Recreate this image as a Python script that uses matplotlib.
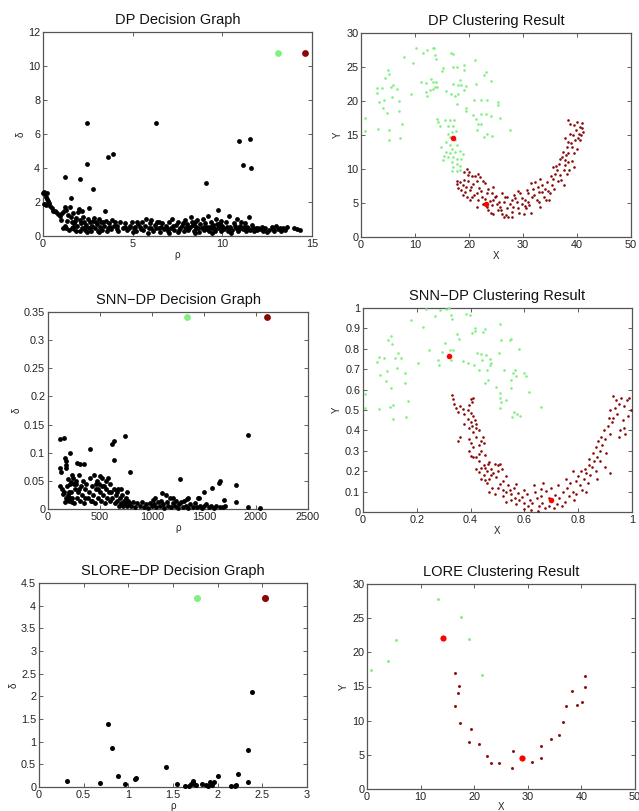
import numpy as np
import matplotlib
matplotlib.use('Agg')
import matplotlib.pyplot as plt
from matplotlib.ticker import MultipleLocator, FuncFormatter

plt.rcParams['font.family'] = ['Liberation Sans', 'DejaVu Sans']

GREEN = '#80f080'
DARKRED = '#880808'
RED = '#ff0000'

# ---------------- DP decision graph (rho, delta) ----------------
dp_centers = [(13.1, 10.75), (14.6, 10.75)]
dp_dec = [
    (2.45, 6.65), (6.3, 6.65), (3.6, 4.65), (3.9, 4.85), (2.45, 4.25), (1.25, 3.45),
    (2.05, 3.35), (2.8, 2.75), (9.1, 3.1), (10.95, 5.6), (11.55, 5.7), (11.15, 4.2),
    (11.6, 4.0), (9.75, 1.55), (1.55, 2.25), (2.55, 1.65), (3.45, 1.5),
    (0.0, 2.55), (0.05, 2.6), (0.1, 2.45), (0.15, 2.3), (0.2, 2.55), (0.25, 2.2),
    (0.3, 2.05), (0.35, 1.95), (0.05, 1.9), (0.15, 1.8), (0.4, 1.75), (0.5, 1.65),
    (0.55, 1.5), (0.65, 1.45), (0.75, 1.4), (0.85, 1.3), (0.95, 1.2), (1.05, 1.35),
    (1.15, 1.45), (1.0, 0.95), (1.1, 0.5),
    (1.25, 1.7), (1.3, 1.55), (1.4, 1.25), (1.5, 1.7), (1.55, 1.1), (1.6, 0.8),
    (1.65, 0.55), (1.7, 1.35), (1.75, 0.4), (1.8, 0.9), (1.85, 1.05), (1.9, 0.6),
    (1.95, 1.4), (2.0, 1.6), (2.05, 0.3), (2.1, 0.75), (2.15, 1.5), (2.2, 0.5),
    (2.25, 1.1), (2.3, 0.85), (2.35, 0.35), (2.4, 0.65), (2.5, 1.0), (2.55, 0.45),
    (2.6, 0.8), (2.7, 0.3), (2.75, 0.6), (2.8, 0.9), (2.85, 1.05), (2.9, 0.45),
    (3.0, 0.7), (3.05, 0.3), (3.1, 1.0), (3.2, 0.55), (3.25, 0.8), (3.3, 0.35),
    (3.4, 0.6), (3.5, 0.9), (3.55, 0.3), (3.6, 0.5), (3.7, 0.75), (3.8, 0.4),
    (3.85, 0.95), (3.95, 0.6), (4.0, 0.85), (1.3, 0.5), (1.45, 0.35), (1.85, 0.3),
    (2.45, 0.25), (3.15, 0.25), (1.2, 0.6), (1.6, 0.45),
    (4.2, 0.3), (4.3, 0.8), (4.45, 0.5), (4.6, 0.75), (4.7, 0.35), (4.85, 0.6),
    (4.95, 0.8), (5.05, 0.45), (5.2, 0.3), (5.3, 0.7), (5.4, 0.55), (5.5, 0.85),
    (5.6, 0.35), (5.7, 0.6), (5.75, 1.0), (5.85, 0.2), (5.95, 0.75), (6.05, 0.45),
    (6.15, 0.3), (6.25, 0.65), (6.35, 0.85), (6.45, 0.5), (6.55, 0.25), (6.65, 0.75),
    (6.75, 0.4), (6.85, 0.6), (6.95, 0.3), (7.05, 0.8), (7.15, 0.5), (7.2, 1.0),
    (7.3, 0.35), (7.4, 0.65), (7.5, 0.25), (7.55, 0.85), (7.65, 0.45), (7.75, 0.6),
    (7.85, 0.3), (7.9, 0.95), (7.95, 0.5), (4.1, 0.6), (5.0, 0.25), (6.0, 0.95),
    (7.0, 0.2),
    (8.05, 0.7), (8.1, 0.35), (8.2, 0.55), (8.25, 1.1), (8.3, 0.85), (8.4, 0.3),
    (8.45, 0.6), (8.55, 0.45), (8.6, 0.95), (8.7, 0.25), (8.75, 0.7), (8.85, 0.5),
    (8.9, 1.0), (9.0, 0.35), (9.05, 0.75), (9.15, 0.55), (9.2, 1.2), (9.25, 0.3),
    (9.35, 0.8), (9.45, 0.45), (9.5, 0.65), (9.6, 0.3), (9.65, 1.0), (9.75, 0.5),
    (9.85, 0.75), (9.9, 0.3), (10.0, 0.6), (10.1, 0.4), (10.2, 0.85), (10.3, 0.3),
    (10.35, 1.15), (10.45, 0.55), (10.55, 0.35), (10.65, 0.75), (10.75, 0.45),
    (10.8, 1.0), (10.9, 0.3), (11.0, 0.6), (11.05, 0.85), (11.15, 0.4), (11.25, 0.75),
    (11.3, 0.3), (11.4, 0.55), (11.5, 1.1), (11.55, 0.35), (11.65, 0.65), (11.75, 0.3),
    (11.85, 0.5), (11.95, 0.35), (8.5, 0.2), (9.4, 0.2), (10.5, 0.2), (8.0, 0.45),
    (9.8, 0.55), (10.9, 0.5),
    (12.1, 0.4), (12.25, 0.3), (12.4, 0.45), (12.6, 0.35), (12.75, 0.55), (12.9, 0.3),
    (13.0, 0.6), (13.1, 0.4), (13.25, 0.3), (13.4, 0.5), (13.6, 0.55), (14.0, 0.5),
    (14.15, 0.4), (14.35, 0.35), (12.2, 0.55), (12.5, 0.25),
    (1.35, 0.9), (1.75, 0.75), (2.05, 0.95), (2.35, 0.55), (2.65, 0.55), (2.95, 0.85),
    (3.35, 0.8), (3.75, 0.55), (4.15, 0.4), (4.55, 0.55), (4.8, 0.45), (5.15, 0.55),
    (5.45, 0.4), (5.9, 0.5), (6.3, 0.45), (6.6, 0.55), (6.9, 0.45), (7.25, 0.6),
    (7.6, 0.35), (7.8, 0.75), (8.15, 0.45), (8.35, 0.65), (8.65, 0.5), (8.95, 0.55),
    (9.1, 0.4), (9.3, 0.55), (9.55, 0.45), (9.7, 0.7), (10.05, 0.45), (10.25, 0.55),
    (10.4, 0.4), (10.7, 0.6), (10.95, 0.4), (11.2, 0.55), (11.45, 0.45), (11.7, 0.45),
    (12.0, 0.5), (12.35, 0.35), (12.8, 0.4), (13.5, 0.35), (13.2, 0.5), (5.25, 0.85),
    (6.45, 0.8), (8.5, 0.85), (9.95, 0.9),
]

# ---------------- DP clustering result (X, Y) ----------------
dp_green = [
    (0.8, 17.5), (0.7, 15.6), (3.2, 15.9), (5.1, 15.7), (5.2, 14.2), (7.2, 14.6),
    (7.6, 16.6), (7.1, 18.6), (7.0, 20.0), (6.6, 21.8), (5.9, 22.4), (5.6, 22.0),
    (5.0, 24.5), (5.1, 23.9), (4.5, 23.4), (3.9, 21.9), (3.0, 21.9), (2.9, 21.2),
    (3.4, 19.8), (4.3, 20.1), (4.8, 18.2), (4.1, 18.9), (5.8, 20.6), (8.0, 26.4),
    (9.2, 21.0), (9.7, 25.6), (10.2, 27.8), (11.5, 27.0), (12.3, 27.5), (13.3, 27.8),
    (13.6, 27.8), (13.7, 26.8), (13.9, 26.2), (11.1, 22.8), (12.0, 22.7), (12.9, 23.3),
    (13.4, 22.8), (13.9, 22.8), (14.1, 22.1), (13.7, 22.0), (13.4, 21.7), (12.8, 21.6),
    (12.3, 20.8), (12.0, 21.3), (15.1, 24.8), (15.0, 24.4), (16.6, 27.1), (17.1, 26.9),
    (17.1, 25.0), (17.7, 25.0), (19.1, 24.6), (19.1, 25.3), (18.3, 23.1), (17.1, 22.5),
    (15.8, 21.5), (16.6, 21.1), (17.4, 20.8), (17.9, 21.1), (18.0, 22.3), (18.6, 22.3),
    (19.4, 22.2), (19.1, 21.6), (17.7, 19.6), (19.4, 19.0), (19.4, 18.5), (21.2, 26.0),
    (21.3, 22.5), (20.9, 20.2), (22.2, 20.2), (23.3, 20.1), (23.1, 24.3), (22.8, 23.8),
    (24.1, 22.9), (21.3, 17.3), (21.6, 16.6), (21.5, 15.7), (22.2, 16.6), (22.3, 18.1),
    (23.1, 18.1), (24.0, 17.8), (22.8, 14.7), (23.4, 15.1), (24.2, 14.8), (25.3, 19.9),
    (25.4, 19.4), (25.7, 17.5), (27.5, 15.7), (20.7, 18.0),
    (14.0, 17.4), (14.2, 16.9), (14.6, 16.3), (15.5, 17.2), (16.5, 17.2), (17.2, 17.2),
    (16.2, 16.3), (17.1, 16.3), (16.8, 15.4), (17.6, 15.6), (16.2, 15.2), (16.5, 14.7),
    (17.4, 14.2), (15.8, 14.0), (16.5, 13.6), (17.7, 13.5), (16.8, 13.0), (15.7, 12.5),
    (16.5, 12.4), (17.4, 12.5), (18.3, 12.6), (18.8, 12.2), (15.3, 11.9), (16.2, 11.8),
    (17.1, 11.7), (17.8, 11.4), (18.6, 11.4), (16.8, 11.0), (17.7, 10.8), (18.3, 10.5),
    (17.1, 10.3), (16.8, 9.7), (17.7, 9.7), (18.3, 9.8), (14.9, 13.2), (15.2, 11.3),
]
dp_red = [
    (17.7, 8.3), (18.3, 8.1), (19.1, 8.4), (19.7, 10.0), (19.9, 9.1), (20.5, 9.0),
    (21.1, 9.0), (19.4, 7.4), (18.6, 6.9), (19.2, 6.6), (20.2, 6.9), (20.8, 7.8),
    (21.4, 8.3), (22.0, 8.8), (22.6, 8.3), (20.5, 5.9), (21.4, 6.4), (21.7, 5.4),
    (22.4, 5.9), (23.3, 6.4), (23.6, 7.1), (24.2, 6.4), (22.6, 4.9), (23.3, 4.4),
    (23.6, 3.9), (24.2, 4.7), (24.5, 5.4), (24.8, 5.9), (25.1, 4.9), (25.4, 3.9),
    (24.5, 3.4), (26.1, 3.4), (25.7, 4.4), (26.4, 5.1), (26.7, 5.9), (27.0, 4.2),
    (27.3, 2.9), (26.9, 3.2), (27.9, 3.7), (28.2, 4.4), (28.8, 5.1), (29.1, 4.2),
    (29.5, 6.4), (29.8, 4.9), (30.1, 3.4), (30.6, 4.2), (30.4, 5.4), (31.0, 6.4),
    (31.2, 4.7), (31.6, 5.9), (31.9, 7.1), (32.2, 8.1), (32.5, 5.4), (32.9, 6.6),
    (33.2, 4.4), (33.5, 7.6), (33.8, 5.9), (34.1, 7.1), (34.4, 8.1), (35.0, 6.4),
    (35.3, 7.6), (35.6, 8.6), (36.0, 9.3), (35.6, 10.3), (36.3, 9.8), (36.6, 10.8),
    (36.9, 9.1), (37.2, 11.8), (37.5, 9.8), (37.8, 11.3), (37.4, 12.5), (38.1, 13.2),
    (38.4, 12.3), (37.8, 14.5), (38.4, 14.0), (38.7, 15.2), (39.1, 13.2), (39.4, 12.3),
    (39.7, 14.2), (40.0, 13.0), (40.3, 15.2), (40.6, 16.2), (40.9, 16.7), (41.2, 15.5),
    (39.4, 16.4), (38.4, 17.2), (38.7, 16.6), (40.0, 16.9), (40.5, 14.2), (39.4, 10.3),
    (38.1, 9.3), (37.5, 7.6), (36.4, 8.3), (34.9, 5.4), (30.7, 6.9), (27.9, 5.4),
    (21.4, 4.4), (20.2, 5.4), (19.6, 5.9), (17.8, 7.8), (18.8, 6.2), (27.0, 5.9),
    (18.0, 7.2), (18.9, 7.6), (19.8, 8.2), (20.3, 7.4), (21.0, 6.2), (21.8, 7.2),
    (22.2, 6.8), (22.9, 5.6), (23.8, 5.3), (24.0, 3.6), (25.0, 6.1), (25.6, 5.2),
    (26.0, 4.0), (26.5, 3.0), (27.5, 4.8), (28.0, 3.0), (28.5, 5.8), (29.3, 3.6),
    (29.9, 5.8), (30.3, 4.6), (31.0, 5.2), (31.5, 3.6), (32.0, 6.2), (32.7, 7.3),
    (33.0, 5.1), (33.6, 6.6), (34.2, 5.4), (34.6, 6.8), (35.2, 8.9), (35.8, 7.1),
    (36.2, 10.4), (36.8, 11.4), (37.0, 8.4), (37.7, 10.6), (38.0, 12.0), (38.3, 11.0),
    (38.9, 13.8), (39.2, 15.0), (39.8, 15.8), (40.2, 14.6), (40.8, 15.0), (41.0, 16.1),
    (39.0, 11.2), (38.6, 9.8), (19.0, 9.6), (20.0, 9.5), (21.6, 9.3), (23.0, 8.0),
    (24.4, 7.4), (26.2, 6.5), (28.3, 6.2), (29.0, 6.8), (31.4, 7.9), (33.1, 8.6),
]
dp_cluster_centers = [(17.0, 14.6), (23.2, 4.9)]

# ---------------- SNN-DP decision graph ----------------
snn_centers = [(1340, 0.342), (2110, 0.342)]
snn_dec = [
    (120, 0.125), (150, 0.127), (120, 0.072), (125, 0.065), (160, 0.09), (170, 0.085),
    (175, 0.078), (170, 0.072), (210, 0.099), (190, 0.054), (220, 0.048), (280, 0.081),
    (310, 0.08), (350, 0.08), (400, 0.107), (630, 0.12), (620, 0.116), (635, 0.087),
    (740, 0.13), (790, 0.065), (1920, 0.132), (1270, 0.054), (1650, 0.049), (1640, 0.047),
    (1810, 0.043), (1580, 0.037), (1500, 0.03), (1450, 0.02), (1440, 0.019), (1350, 0.02),
    (1340, 0.017), (1690, 0.016), (1810, 0.012), (1920, 0.004), (2040, 0.002),
    (1100, 0.029), (1130, 0.024), (1200, 0.02), (1030, 0.02), (140, 0.026), (200, 0.03),
    (210, 0.02), (180, 0.017), (230, 0.012),
    (120, 0.04), (130, 0.035), (150, 0.03), (160, 0.012), (170, 0.02), (180, 0.04),
    (190, 0.025), (200, 0.015), (210, 0.045), (220, 0.03), (230, 0.02), (240, 0.055),
    (250, 0.01), (260, 0.035), (270, 0.045), (280, 0.02), (290, 0.03), (300, 0.06),
    (310, 0.015), (320, 0.04), (330, 0.025), (340, 0.05), (350, 0.01), (360, 0.035),
    (370, 0.045), (380, 0.02), (390, 0.03), (400, 0.055), (410, 0.015), (420, 0.04),
    (430, 0.025), (440, 0.06), (450, 0.01), (460, 0.035), (470, 0.05), (480, 0.02),
    (490, 0.045), (500, 0.03), (510, 0.015), (520, 0.055), (530, 0.025), (540, 0.04),
    (550, 0.01), (560, 0.035), (570, 0.02), (580, 0.055), (590, 0.03), (600, 0.015),
    (610, 0.03), (620, 0.02), (630, 0.035), (640, 0.01), (650, 0.025), (660, 0.015),
    (670, 0.035), (680, 0.005), (690, 0.02), (700, 0.01), (710, 0.025), (720, 0.005),
    (730, 0.015), (740, 0.01), (750, 0.02), (760, 0.005), (770, 0.015), (780, 0.01),
    (800, 0.005), (820, 0.012), (840, 0.003), (860, 0.01), (880, 0.006), (900, 0.012),
    (920, 0.003), (940, 0.008), (960, 0.002), (980, 0.01), (1000, 0.005), (1010, 0.016),
    (1020, 0.008), (1040, 0.003), (1060, 0.012), (1080, 0.005), (1090, 0.015),
    (1110, 0.008), (1120, 0.002), (1140, 0.012), (1150, 0.006), (1170, 0.02),
    (1180, 0.003), (1200, 0.01), (1220, 0.005), (1230, 0.015), (1250, 0.002),
    (1260, 0.008), (1280, 0.012), (1300, 0.004), (1310, 0.015), (1330, 0.006),
    (1350, 0.002), (1370, 0.008), (1390, 0.004), (1410, 0.01), (1430, 0.003),
    (1460, 0.006), (1480, 0.002), (1500, 0.005), (1520, 0.008), (1550, 0.003),
    (1570, 0.005), (1600, 0.002), (1620, 0.006), (1650, 0.004), (1680, 0.003),
    (1700, 0.005), (600, 0.045), (560, 0.05), (480, 0.035), (420, 0.015), (360, 0.02),
    (300, 0.035), (250, 0.045), (700, 0.035), (660, 0.03), (760, 0.03), (230, 0.06),
    (270, 0.05), (500, 0.058), (460, 0.045), (520, 0.04),
]

# ---------------- SNN-DP clustering result ----------------
snn_green = [
    (0.006, 0.58), (0.006, 0.51), (0.052, 0.734), (0.06, 0.76), (0.064, 0.67),
    (0.06, 0.503), (0.078, 0.757), (0.084, 0.642), (0.09, 0.69), (0.093, 0.842),
    (0.105, 0.862), (0.109, 0.822), (0.103, 0.609), (0.099, 0.515), (0.111, 0.524),
    (0.111, 0.454), (0.118, 0.757), (0.126, 0.708), (0.13, 0.78), (0.142, 0.757),
    (0.155, 0.682), (0.157, 0.634), (0.159, 0.467), (0.167, 0.545), (0.18, 0.94),
    (0.206, 0.731), (0.223, 0.907), (0.233, 0.995), (0.245, 0.796), (0.266, 0.959),
    (0.281, 0.723), (0.279, 0.744), (0.287, 0.988), (0.292, 0.785), (0.306, 0.826),
    (0.31, 0.997), (0.32, 0.998), (0.327, 0.964), (0.33, 0.948), (0.322, 0.793),
    (0.334, 0.793), (0.328, 0.744), (0.351, 0.875), (0.357, 0.85), (0.372, 0.739),
    (0.384, 0.972), (0.399, 0.964), (0.39, 0.731), (0.406, 0.878), (0.415, 0.888),
    (0.411, 0.72), (0.418, 0.904), (0.425, 0.78), (0.44, 0.773), (0.446, 0.883),
    (0.455, 0.899), (0.443, 0.744), (0.431, 0.695), (0.457, 0.768), (0.46, 0.695),
    (0.471, 0.72), (0.473, 0.752), (0.474, 0.731), (0.465, 0.647), (0.454, 0.634),
    (0.495, 0.614), (0.508, 0.921), (0.506, 0.777), (0.508, 0.581), (0.511, 0.557),
    (0.514, 0.537), (0.508, 0.508), (0.524, 0.695), (0.53, 0.55), (0.512, 0.842),
    (0.545, 0.842), (0.55, 0.85), (0.549, 0.606), (0.551, 0.647), (0.554, 0.467),
    (0.558, 0.679), (0.564, 0.695), (0.561, 0.492), (0.567, 0.666), (0.572, 0.48),
    (0.579, 0.801), (0.582, 0.47), (0.597, 0.679), (0.607, 0.666), (0.616, 0.59),
    (0.663, 0.516),
]
snn_red = [
    (0.33, 0.575), (0.335, 0.555), (0.34, 0.53), (0.345, 0.51), (0.36, 0.52),
    (0.37, 0.505), (0.355, 0.49), (0.375, 0.48), (0.39, 0.50), (0.395, 0.525),
    (0.40, 0.555), (0.41, 0.56), (0.405, 0.54), (0.40, 0.485), (0.41, 0.47),
    (0.39, 0.455), (0.40, 0.44), (0.415, 0.45), (0.42, 0.43), (0.405, 0.42),
    (0.42, 0.41), (0.43, 0.40), (0.395, 0.41), (0.375, 0.43), (0.41, 0.39),
    (0.42, 0.37), (0.36, 0.37), (0.355, 0.35), (0.395, 0.36), (0.40, 0.34),
    (0.41, 0.32), (0.43, 0.33), (0.44, 0.35), (0.445, 0.37), (0.45, 0.34),
    (0.395, 0.30), (0.40, 0.275), (0.41, 0.27), (0.42, 0.27), (0.43, 0.285),
    (0.44, 0.30), (0.455, 0.28), (0.43, 0.25), (0.42, 0.21), (0.43, 0.195),
    (0.44, 0.215), (0.45, 0.23), (0.455, 0.215), (0.46, 0.20), (0.465, 0.235),
    (0.47, 0.245), (0.475, 0.21), (0.49, 0.235), (0.50, 0.23), (0.51, 0.235),
    (0.44, 0.16), (0.455, 0.155), (0.47, 0.16), (0.475, 0.18), (0.485, 0.19),
    (0.495, 0.17), (0.50, 0.20), (0.515, 0.21), (0.52, 0.15), (0.53, 0.175),
    (0.54, 0.13), (0.50, 0.12), (0.51, 0.135), (0.52, 0.11), (0.53, 0.10),
    (0.545, 0.11), (0.55, 0.09), (0.56, 0.12), (0.57, 0.135), (0.565, 0.07),
    (0.575, 0.095), (0.58, 0.06), (0.59, 0.075), (0.60, 0.11), (0.60, 0.045),
    (0.61, 0.09), (0.615, 0.03), (0.62, 0.06), (0.625, 0.01), (0.63, 0.045),
    (0.635, 0.13), (0.64, 0.10), (0.645, 0.07), (0.65, 0.005), (0.655, 0.03),
    (0.66, 0.115), (0.66, 0.08), (0.665, 0.045), (0.67, 0.14), (0.675, 0.02),
    (0.68, 0.105), (0.69, 0.07), (0.69, 0.03), (0.70, 0.12), (0.71, 0.02),
    (0.715, 0.085), (0.72, 0.04), (0.725, 0.13), (0.73, 0.07), (0.74, 0.03),
    (0.745, 0.10), (0.75, 0.05), (0.755, 0.16), (0.76, 0.12), (0.765, 0.08),
    (0.77, 0.14), (0.78, 0.10), (0.78, 0.20), (0.785, 0.06), (0.79, 0.15),
    (0.80, 0.175), (0.805, 0.13), (0.81, 0.20), (0.815, 0.11), (0.82, 0.16),
    (0.825, 0.21), (0.83, 0.19), (0.835, 0.14), (0.84, 0.23), (0.84, 0.26),
    (0.845, 0.18), (0.85, 0.22), (0.855, 0.29), (0.86, 0.25), (0.865, 0.20),
    (0.865, 0.32), (0.87, 0.27), (0.875, 0.35), (0.88, 0.30), (0.88, 0.25),
    (0.885, 0.37), (0.89, 0.33), (0.895, 0.40), (0.90, 0.36), (0.905, 0.29),
    (0.91, 0.42), (0.915, 0.46), (0.92, 0.38), (0.92, 0.50), (0.925, 0.44),
    (0.93, 0.57), (0.935, 0.51), (0.94, 0.55), (0.945, 0.48), (0.95, 0.53),
    (0.955, 0.40), (0.96, 0.56), (0.965, 0.45), (0.97, 0.52), (0.975, 0.38),
    (0.98, 0.55), (0.985, 0.47), (0.99, 0.56), (0.995, 0.50), (0.97, 0.41),
    (0.95, 0.37), (0.93, 0.46), (0.90, 0.22), (0.92, 0.19), (0.87, 0.16),
    (0.83, 0.10), (0.79, 0.09), (0.60, 0.015), (0.57, 0.04), (0.55, 0.06),
    (0.53, 0.05), (0.52, 0.08), (0.49, 0.09), (0.48, 0.12), (0.46, 0.14),
    (0.47, 0.10), (0.45, 0.18),
]
snn_cluster_centers = [(0.32, 0.767), (0.70, 0.058)]

# ---------------- SLORE-DP decision graph ----------------
slore_centers = [(1.774, 4.17), (2.534, 4.17)]
slore_dec = [
    (0.309, 0.13), (0.686, 0.096), (0.775, 1.38), (0.816, 0.86), (0.88, 0.24),
    (0.966, 0.06), (1.07, 0.18), (1.088, 0.19), (1.42, 0.45), (1.54, 0.07),
    (1.632, 0.03), (1.677, 0.015), (1.696, 0.06), (1.72, 0.13), (1.737, 0.07),
    (1.763, 0.04), (1.823, 0.06), (1.864, 0.04), (1.893, 0.015), (1.919, 0.11),
    (1.942, 0.04), (1.957, 0.12), (2.0, 0.25), (2.154, 0.015), (2.19, 0.015),
    (2.21, 0.04), (2.225, 0.29), (2.34, 0.12), (2.344, 0.81), (2.38, 2.09),
]

# ---------------- LORE clustering result ----------------
lore_green = [(0.75, 17.4), (4.0, 18.75), (5.5, 21.8), (13.2, 27.8), (17.45, 25.2),
              (19.1, 22.0), (21.5, 16.7)]
lore_red = [
    (16.4, 17.0), (17.1, 15.1), (17.0, 14.0), (16.5, 12.2), (17.3, 9.7), (19.4, 8.8),
    (19.1, 6.85), (20.9, 6.6), (22.4, 4.9), (23.2, 3.85), (24.7, 3.85), (27.2, 5.5),
    (27.1, 3.1), (30.7, 3.95), (32.5, 4.6), (32.5, 6.3), (34.4, 7.3), (35.9, 7.9),
    (36.6, 9.8), (37.2, 12.1), (38.3, 14.3), (39.1, 12.3), (40.2, 12.8), (40.6, 14.9),
    (40.7, 16.5),
]
lore_cluster_centers = [(14.2, 22.1), (29.0, 4.5)]

W, H = 639, 811
fig = plt.figure(figsize=(W / 100, H / 100), dpi=100)
fig.patch.set_facecolor('white')


def make_ax(left, top, right, bottom):
    return fig.add_axes([left / W, 1 - bottom / H, (right - left) / W, (bottom - top) / H])


def style(ax, title, xlabel, ylabel, xlim, ylim, xstep, ystep):
    ax.set_xlim(*xlim)
    ax.set_ylim(*ylim)
    ax.xaxis.set_major_locator(MultipleLocator(xstep))
    ax.yaxis.set_major_locator(MultipleLocator(ystep))
    fmt = FuncFormatter(lambda v, p: '%g' % round(v, 6))
    ax.xaxis.set_major_formatter(fmt)
    ax.yaxis.set_major_formatter(fmt)
    ax.tick_params(direction='in', top=True, right=True, length=3, width=0.6,
                   labelsize=7.8, colors='#444444', labelcolor='#222222', pad=2)
    for s in ax.spines.values():
        s.set_color('#555555')
        s.set_linewidth(0.9)
    ax.set_title(title, fontsize=10.5, color='#111111', pad=6)
    ax.set_xlabel(xlabel, fontsize=7, color='#222222', labelpad=1)
    ax.set_ylabel(ylabel, fontsize=7, color='#222222', labelpad=2)


def pts(data):
    a = np.array(data, dtype=float)
    return a[:, 0], a[:, 1]


def decision(ax, dec, centers, s_black, s_c):
    x, y = pts(dec)
    ax.scatter(x, y, s=s_black, c='black', linewidths=0, clip_on=False, zorder=3)
    ax.scatter([centers[0][0]], [centers[0][1]], s=s_c, c=GREEN, linewidths=0, zorder=4)
    ax.scatter([centers[1][0]], [centers[1][1]], s=s_c, c=DARKRED, linewidths=0, zorder=4)


def clusters(ax, green, red, centers, s_pt, s_c):
    gx, gy = pts(green)
    rx, ry = pts(red)
    ax.scatter(gx, gy, s=s_pt, c=GREEN, linewidths=0, clip_on=False, zorder=3)
    ax.scatter(rx, ry, s=s_pt, c=DARKRED, linewidths=0, clip_on=False, zorder=3)
    cx, cy = pts(centers)
    ax.scatter(cx, cy, s=s_c, c=RED, linewidths=0, zorder=4)


ax1 = make_ax(43, 32, 312, 236)
decision(ax1, dp_dec, dp_centers, 12, 24)
style(ax1, 'DP Decision Graph', 'ρ', 'δ', (0, 15), (0, 12), 5, 2)

ax2 = make_ax(361, 33, 631, 237)
clusters(ax2, dp_green, dp_red, dp_cluster_centers, 3.5, 16)
style(ax2, 'DP Clustering Result', 'X', 'Y', (0, 50), (0, 30), 10, 5)

ax3 = make_ax(48, 312, 308, 509)
decision(ax3, snn_dec, snn_centers, 12, 24)
style(ax3, 'SNN\u2212DP Decision Graph', 'ρ', 'δ', (0, 2500), (0, 0.35), 500, 0.05)

ax4 = make_ax(363, 308, 632, 512)
clusters(ax4, snn_green, snn_red, snn_cluster_centers, 3.5, 16)
style(ax4, 'SNN\u2212DP Clustering Result', 'X', 'Y', (0, 1), (0, 1), 0.2, 0.1)

ax5 = make_ax(39, 583, 307, 787)
decision(ax5, slore_dec, slore_centers, 13, 26)
style(ax5, 'SLORE\u2212DP Decision Graph', 'ρ', 'δ', (0, 3), (0, 4.5), 0.5, 0.5)

ax6 = make_ax(367, 584, 635, 789)
clusters(ax6, lore_green, lore_red, lore_cluster_centers, 4.5, 20)
style(ax6, 'LORE Clustering Result', 'X', 'Y', (0, 50), (0, 30), 10, 5)
ax6.xaxis.labelpad = 0

fig.savefig('out.png', dpi=100, facecolor='white')
